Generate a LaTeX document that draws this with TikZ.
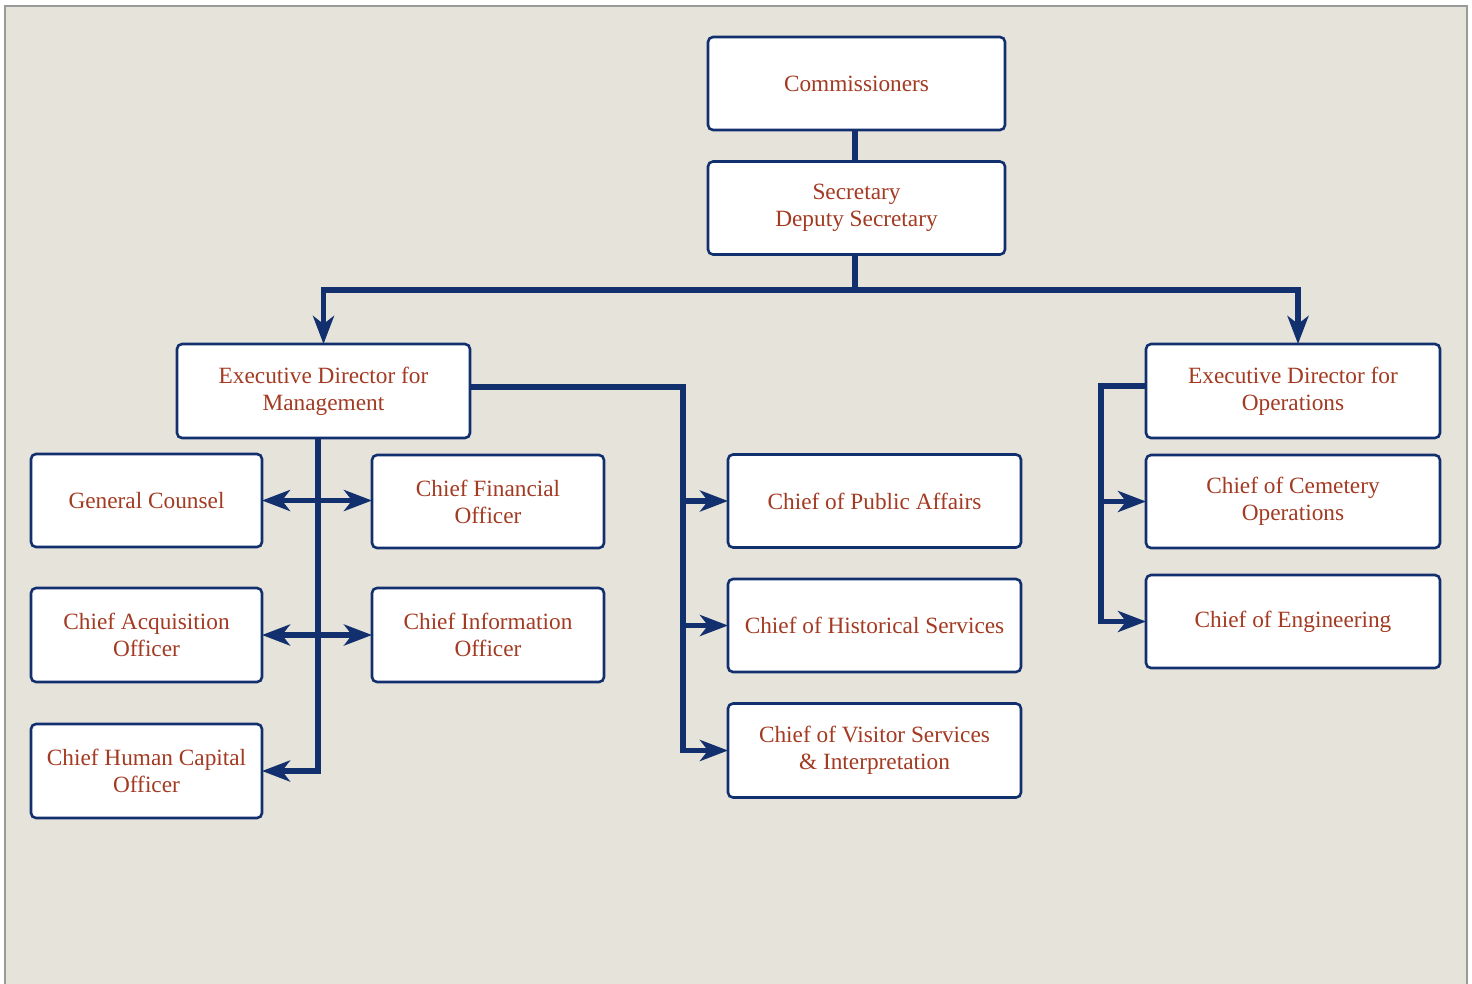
\documentclass[tikz,border=0pt]{standalone}
\usepackage{fontspec}
\setmainfont{Liberation Serif}
\usetikzlibrary{arrows.meta}
\definecolor{navy}{HTML}{13306E}
\definecolor{rust}{HTML}{A33A22}
\definecolor{bg}{HTML}{E6E3DB}
\definecolor{frame}{HTML}{9A9A9A}
\tikzset{
  box/.style={draw=navy, line width=2.6pt, fill=white, rounded corners=5pt,
    text=rust, align=center, inner sep=0pt, outer sep=0pt,
    font=\fontsize{23.3}{27}\selectfont},
  conn/.style={draw=navy, line width=5.2pt},
  tip/.style={-{Stealth[length=28pt,width=21pt,inset=8pt]}},
  dtip/.style={{Stealth[length=28pt,width=21pt,inset=8pt]}-{Stealth[length=28pt,width=21pt,inset=8pt]}}
}
\begin{document}
\begin{tikzpicture}[x=1pt,y=-1pt]
\useasboundingbox (0,0) rectangle (1472,983);
\fill[white] (0,0) rectangle (1472,983);
\draw[frame, line width=1.6pt, fill=bg] (4.8,990) -- (4.8,5.8) -- (1467.2,5.8) -- (1467.2,990);
% boxes
\node[box, minimum width=297pt, minimum height=93pt] (com) at (856.5,83.5) {Commissioners};
\node[box, minimum width=297pt, minimum height=93pt] (sec) at (856.5,208) {Secretary\\Deputy Secretary};
\node[box, minimum width=293pt, minimum height=94pt] (edm) at (323.5,391) {Executive Director for\\Management};
\node[box, minimum width=294pt, minimum height=94pt] (edo) at (1293,391) {Executive Director for\\Operations};
\node[box, minimum width=231pt, minimum height=93pt] (gc) at (146.5,500.5) {General Counsel};
\node[box, minimum width=232pt, minimum height=93pt] (cfo) at (488,501.5) {Chief Financial\\Officer};
\node[box, minimum width=231pt, minimum height=94pt] (cao) at (146.5,635) {Chief Acquisition\\Officer};
\node[box, minimum width=232pt, minimum height=94pt] (cio) at (488,635) {Chief Information\\Officer};
\node[box, minimum width=231pt, minimum height=94pt] (chc) at (146.5,771) {Chief Human Capital\\Officer};
\node[box, minimum width=293pt, minimum height=93pt] (pa) at (874.5,501) {Chief of Public Affairs};
\node[box, minimum width=293pt, minimum height=93pt] (hs) at (874.5,625.5) {Chief of Historical Services};
\node[box, minimum width=293pt, minimum height=94pt] (vs) at (874.5,750.5) {Chief of Visitor Services\\\& Interpretation};
\node[box, minimum width=294pt, minimum height=93pt] (cem) at (1293,501.5) {Chief of Cemetery\\Operations};
\node[box, minimum width=294pt, minimum height=93pt] (eng) at (1293,621.5) {Chief of Engineering};
% bus coordinates
\coordinate (top) at (855,290);
\coordinate (orx) at (1298,0);
\coordinate (ml) at (318,0);
\coordinate (mr) at (683,0);
\coordinate (ol) at (1101,0);
\coordinate (edmr) at (470,387);
\coordinate (edol) at (1146,386);
% connectors
\draw[conn] (com.south -| top) -- (sec.north -| top);
\draw[conn] (sec.south -| top) -- (top);
\draw[conn,tip] (top) -| (edm.north);
\draw[conn,tip] (top) -| (orx |- edo.north);
\draw[conn,tip] (ml |- edm.south) -- (ml |- chc.east) -- (chc.east);
\draw[conn,dtip] (gc.east) -- (cfo.west |- gc.east);
\draw[conn,dtip] (cao.east) -- (cio.west);
\draw[conn,tip] (edmr) -| (mr |- vs.west) -- (vs.west);
\draw[conn,tip] (mr |- pa.west) -- (pa.west);
\draw[conn,tip] (mr |- hs.west) -- (hs.west);
\draw[conn,tip] (edol) -| (ol |- eng.west) -- (eng.west);
\draw[conn,tip] (ol |- cem.west) -- (cem.west);
\end{tikzpicture}
\end{document}
